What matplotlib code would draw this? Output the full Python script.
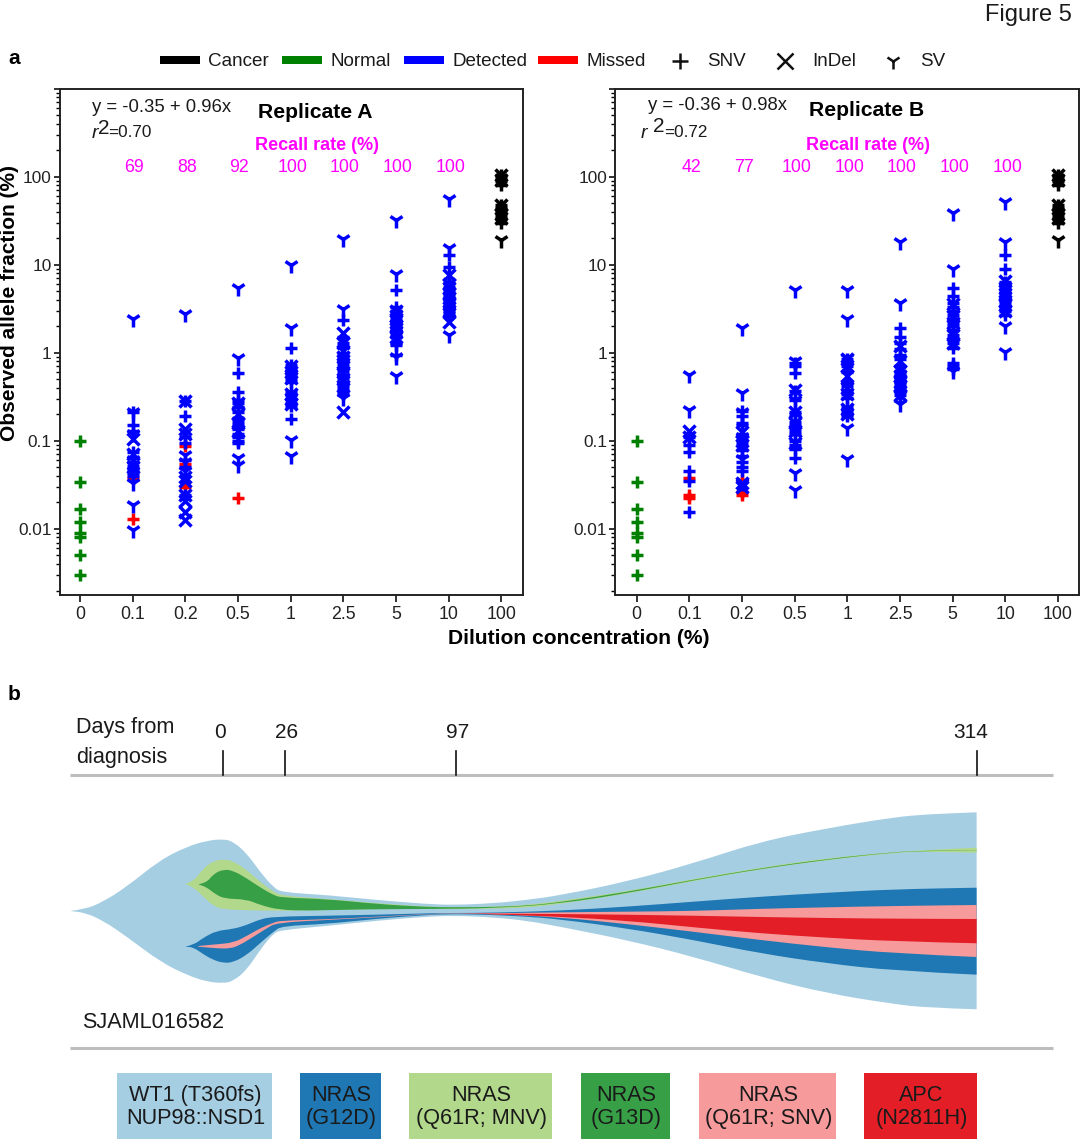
import numpy as np
import matplotlib
matplotlib.use("Agg")
import matplotlib.pyplot as plt
from matplotlib.path import Path
from matplotlib.patches import PathPatch, Rectangle
from matplotlib.lines import Line2D
from matplotlib.ticker import LogLocator, FixedLocator, NullFormatter, FuncFormatter

plt.rcParams['font.family'] = ['Liberation Sans', 'DejaVu Sans']

W, H = 1080, 1141

dilutions = ['0', '0.1', '0.2', '0.5', '1', '2.5', '5', '10', '100']
normal_snv = [0.1, 0.034, 0.017, 0.012, 0.009, 0.008, 0.005, 0.003]
cancer_snv = [105, 97, 88, 80, 48, 44, 40, 36, 33, 30]
cancer_indel = [105, 92, 48, 38, 34]
cancer_sv = [19]

# one list per dilution 0.1 ... 10
a_snv = [[0.21, 0.15, 0.13, 0.075, 0.065, 0.058, 0.052, 0.047, 0.043, 0.04],
         [0.28, 0.19, 0.11, 0.095, 0.06, 0.05, 0.024],
         [0.59, 0.36, 0.29, 0.27, 0.24, 0.21, 0.18, 0.165, 0.15, 0.135, 0.12, 0.11, 0.1, 0.094],
         [1.13, 0.72, 0.65, 0.6, 0.54, 0.5, 0.46, 0.36, 0.33, 0.3, 0.27, 0.25, 0.178],
         [2.33, 1.5, 1.3, 1.15, 1.0, 0.9, 0.82, 0.75, 0.68, 0.62, 0.56, 0.52, 0.47, 0.43, 0.4, 0.37, 0.34],
         [5.2, 3.3, 3.0, 2.7, 2.5, 2.3, 2.1, 1.95, 1.8, 1.65, 1.5, 1.3, 1.23, 0.95],
         [13, 9.4, 6.2, 5.6, 5.1, 4.7, 4.3, 4, 3.7, 3.4, 3.2, 3, 2.8, 2.6]]
a_indel = [[0.105, 0.07, 0.05],
           [0.28, 0.136, 0.12, 0.039, 0.035, 0.024, 0.021, 0.0157, 0.0127],
           [0.27, 0.2, 0.16, 0.13],
           [0.7, 0.6, 0.52, 0.34, 0.3, 0.26],
           [1.67, 1.3, 1.05, 0.9, 0.75, 0.6, 0.5, 0.42, 0.215],
           [3.0, 2.6, 2.4, 2.0, 1.7, 1.5],
           [7.7, 6, 5.5, 4.8, 4.2, 3.6, 3, 2.25]]
a_sv = [[2.43, 0.21, 0.12, 0.06, 0.045, 0.033, 0.0187, 0.0096],
        [2.77, 0.069, 0.058, 0.045],
        [5.5, 0.88, 0.0635, 0.0535],
        [10, 1.92, 0.103, 0.068],
        [19.7, 3.1, 0.31],
        [32, 7.9, 0.9, 0.54],
        [55, 15.6, 1.6]]
a_missed = [[0.038, 0.013], [0.0866, 0.055, 0.03], [0.0224], [], [], [], []]
a_recall = ['69', '88', '92', '100', '100', '100', '100']

b_snv = [[0.112, 0.09, 0.0755, 0.046, 0.0346, 0.0157],
         [0.216, 0.19, 0.16, 0.15, 0.12, 0.095, 0.078, 0.068, 0.058, 0.05, 0.045],
         [0.77, 0.7, 0.59, 0.37, 0.29, 0.215, 0.2, 0.165, 0.15, 0.13, 0.12, 0.1, 0.09, 0.08, 0.064],
         [0.85, 0.7, 0.6, 0.47, 0.42, 0.38, 0.34, 0.31, 0.24, 0.22, 0.2, 0.19],
         [1.92, 1.5, 1.3, 1.1, 0.95, 0.85, 0.7, 0.62, 0.57, 0.53, 0.5, 0.47, 0.44, 0.41, 0.38, 0.33],
         [5.4, 4.4, 3.7, 3.3, 3, 2.7, 2.4, 2.2, 2, 1.8, 1.6, 1.45, 1.3, 1.14, 0.77, 0.7, 0.65],
         [13, 9, 6.4, 6, 5.5, 5, 4.6, 4.2, 3.9, 3.6, 3.3, 3, 2.7]]
b_indel = [[0.131, 0.112],
           [0.125, 0.1, 0.09, 0.033, 0.03],
           [0.38, 0.21, 0.16, 0.13, 0.095],
           [0.85, 0.7, 0.55, 0.4, 0.34, 0.23, 0.2],
           [1.2, 0.8, 0.62, 0.55, 0.47, 0.42, 0.33],
           [3.6, 2.6, 2.2, 1.6, 1.3],
           [6.5, 5.5, 4.6, 3.9, 3.5, 3]]
b_sv = [[0.56, 0.225],
        [1.92, 0.35, 0.21, 0.11, 0.095, 0.063, 0.033],
        [5.2, 0.8, 0.29, 0.043, 0.028],
        [5.2, 2.4, 0.88, 0.14, 0.062],
        [18, 3.7, 0.33, 0.26],
        [39, 9, 0.62],
        [52, 18, 2, 1.03]]
b_missed = [[0.038, 0.024, 0.0225], [0.036, 0.026, 0.024], [], [], [], [], []]
b_recall = ['42', '77', '100', '100', '100', '100', '100']

# fish plot, days from diagnosis and clone edges above/below the midline
wt1_days = [-63.7, -57.5, -49.9, -40.1, -26.2, -15.1, -6.8, 0.2, 4.3, 9.9, 15.4, 21, 24.5, 43.2, 64, 84.9, 96, 112.7, 126.5, 140.4, 168.2, 196, 223.7, 251.5, 279.3, 293.2, 314]
wt1_top = [0, 1.7, 9.3, 24.3, 51, 64.3, 70.3, 72, 69.3, 57.7, 39.3, 23.7, 18.7, 16, 11, 7, 6, 7.7, 11, 15.7, 29.3, 47.7, 69.3, 82.7, 93.7, 96.7, 98.7]
wt1_bot = [0, -1.7, -9.7, -25.7, -50.7, -64, -70.7, -72.3, -70, -59, -39, -22.3, -19, -15, -9.7, -5.7, -4.7, -6.3, -9.7, -15.7, -29, -45.7, -65.7, -82.3, -93, -96.7, -98.3]

mnv_days_top = [-15.8, -12.3, -8.2, -4, 0.2, 4.3, 9.9, 15.4, 21, 24.5, 43.2, 64, 84.9, 96, 112.7, 126.5, 140.4, 168.2, 196, 223.7, 251.5, 279.3, 293.2, 314]
mnv_top = [27, 29.3, 42.7, 50, 51.7, 50, 41, 29.3, 19.3, 15.3, 12, 7.7, 4.3, 3.7, 4.3, 6, 10, 19.7, 32, 43.3, 53, 58.7, 61, 63.3]
mnv_days_bot = [-15.8, -12.3, -8.2, -4, 0.2, 9.9, 21, 29.3, 43.2, 64, 84.9, 96, 112.7, 126.5, 140.4, 168.2, 196, 223.7, 251.5, 279.3, 293.2, 314]
mnv_bot = [27, 23.7, 14.3, 5, 1.7, 0.7, 0.3, 0.3, 1, 2, 2, 2, 2.3, 3.3, 7, 17, 30, 41.7, 51, 58, 59.7, 58.3]

g13_days_top = [-10.3, -6.8, -4, 0.2, 4.3, 9.9, 15.4, 21, 24.5, 43.2, 64, 84.9, 96, 112.7, 126.5, 140.4, 168.2, 196, 223.7, 251.5, 279.3, 293.2, 314]
g13_top = [26.7, 28.3, 37, 41.7, 40.3, 32.7, 23.7, 16, 13.3, 12, 7, 4, 3.7, 4, 5.3, 8.7, 19, 31.3, 42.7, 52, 59, 60.3, 61]
g13_days_bot = [-10.3, -6.8, -4, 0.2, 9.9, 15.4, 23.7, 36.3, 57.1, 84.9, 112.7, 140.4, 168.2, 196, 223.7, 251.5, 279.3, 293.2, 314]
g13_bot = [26.7, 23.7, 18.3, 12.3, 11.7, 6, 1, 0.3, 1.7, 2, 2.7, 7.3, 17.7, 30.7, 42, 51.3, 58.7, 60, 60.8]

g12_days_top = [-15.8, -12.3, -8.2, -2.6, 4.3, 9.9, 15.4, 21, 43.2, 64, 84.9, 96, 112.7, 140.4, 168.2, 196, 223.7, 251.5, 279.3, 314]
g12_top = [-35.7, -34, -26.7, -19.7, -18, -14, -8.3, -5.7, -4.7, -3.7, -2.3, -2, -1.7, 0.3, 4.3, 9.3, 14.3, 18.3, 21.7, 23.3]
g12_days_bot = [-15.8, -12.3, -8.2, -4, 0.2, 4.3, 9.9, 15.4, 21, 24.5, 43.2, 64, 84.9, 96, 112.7, 126.5, 140.4, 168.2, 196, 223.7, 251.5, 279.3, 314]
g12_bot = [-35.7, -36.3, -43.3, -49, -52, -51.3, -44, -32.3, -20.7, -15, -13, -7.7, -4, -3, -4, -5.7, -8.3, -17.3, -29, -42.3, -52.3, -59.7, -63.7]

snv_days_top = [-10.3, -2.6, 4.3, 9.9, 15.4, 21, 23.7, 43.2, 64, 84.9, 96, 112.7, 140.4, 168.2, 196, 223.7, 251.5, 279.3, 314]
snv_top = [-35, -33.3, -31.7, -25, -17.3, -11.7, -9.7, -8.3, -5.7, -3, -2.3, -2.3, -1.3, -0.7, 0, 2.2, 3.7, 5, 6]
snv_days_bot = [-10.3, -2.6, 2.9, 7.1, 12.7, 18.2, 22.4, 43.2, 64, 84.9, 96, 112.7, 140.4, 168.2, 196, 223.7, 251.5, 279.3, 314]
snv_bot = [-35.7, -37.3, -37.7, -34, -25.7, -17.3, -11.7, -9, -6.3, -3.3, -2.7, -3, -6.3, -13, -20.7, -29, -36.3, -42.3, -46]

apc_days = [98.8, 112.7, 140.4, 168.2, 196, 223.7, 251.5, 279.3, 314]
apc_top = [-2.3, -2.7, -3, -3.7, -4.7, -6, -7, -7.7, -8]
apc_bot = [-2.3, -3.3, -5.7, -9.7, -16.3, -22.3, -26.7, -30.3, -32.3]

clone_names = ['WT1 (T360fs)\nNUP98::NSD1', 'NRAS\n(G12D)', 'NRAS\n(Q61R; MNV)', 'NRAS\n(G13D)', 'NRAS\n(Q61R; SNV)', 'APC\n(N2811H)']
clone_colors = ['#A6CEE3', '#1F78B4', '#B2D88B', '#37A047', '#F79A9B', '#E31E26']
time_points = [0, 26, 97, 314]
time_label_px = [220, 287, 458, 971]

TXT = '#1a1a1a'


def fx(px):
    return px / W


def fy(py):
    return 1 - py / H


def ftext(px, py, s, **kw):
    kw.setdefault('ha', 'center')
    kw.setdefault('va', 'center')
    kw.setdefault('color', TXT)
    return fig.text(fx(px), fy(py), s, **kw)


def dots(ax, col, vals, marker, color):
    if len(vals) == 0:
        return
    size = {'+': 9, 'x': 8, '1': 11.5}[marker]
    ax.plot([col] * len(vals), vals, linestyle='none', marker=marker, color=color,
            markersize=size, markeredgewidth=2.5, clip_on=False)


def draw_panel(ax, snv, indel, sv, missed):
    # missed goes first, the blue marks sit on top of it
    for i in range(7):
        dots(ax, i + 1, missed[i], '+', '#ff0000')
    for i in range(7):
        dots(ax, i + 1, snv[i], '+', '#0000ff')
        dots(ax, i + 1, indel[i], 'x', '#0000ff')
        dots(ax, i + 1, sv[i], '1', '#0000ff')
    dots(ax, 0, normal_snv, '+', '#008000')
    dots(ax, 8, cancer_snv, '+', '#000000')
    dots(ax, 8, cancer_indel, 'x', '#000000')
    dots(ax, 8, cancer_sv, '1', '#000000')

    ax.set_yscale('log')
    ax.set_ylim(10 ** -2.75, 1000)
    ax.set_xticks(range(9))
    ax.set_xticklabels(dilutions)
    ax.yaxis.set_major_locator(FixedLocator([0.01, 0.1, 1, 10, 100, 1000]))
    ax.yaxis.set_major_formatter(FuncFormatter(lambda v, p: '' if v > 100 else ('%g' % v)))
    ax.yaxis.set_minor_locator(LogLocator(base=10, subs=np.arange(2, 10), numticks=12))
    ax.yaxis.set_minor_formatter(NullFormatter())
    ax.tick_params(axis='x', which='major', labelsize=12.8, length=5, width=1.3, colors='#222222', pad=3)
    ax.tick_params(axis='y', which='major', labelsize=12.4, length=4.3, width=1.3, colors='#222222', pad=1.5)
    ax.tick_params(axis='y', which='minor', length=2.6, width=1)
    for s in ax.spines.values():
        s.set_linewidth(1.4)
        s.set_color('#222222')


def smooth_patch(ax, d_top, top, d_bot, bot, color, z):
    # quadratic segments through the read points so the edge stays round
    pts = list(zip(d_top, top)) + list(zip(d_bot[::-1], bot[::-1]))
    verts = [pts[0]]
    codes = [Path.MOVETO]
    for i in range(1, len(pts) - 1):
        if pts[i][0] == pts[i - 1][0] or pts[i][0] == pts[i + 1][0]:
            verts.append(pts[i])
            codes.append(Path.LINETO)
            continue
        verts.append(pts[i])
        codes.append(Path.CURVE3)
        verts.append(((pts[i][0] + pts[i + 1][0]) / 2, (pts[i][1] + pts[i + 1][1]) / 2))
        codes.append(Path.CURVE3)
    verts.append(pts[-1])
    codes.append(Path.LINETO)
    verts.append(pts[0])
    codes.append(Path.CLOSEPOLY)
    ax.add_patch(PathPatch(Path(verts, codes), facecolor=color, edgecolor='none', zorder=z))


fig = plt.figure(figsize=(W / 100, H / 100), dpi=100)

# panel b sits on a full page axes: x in days, y in px from the fish midline
ax_b = fig.add_axes([0, 0, 1, 1], zorder=0)
ax_b.set_xlim(-223 / 2.4, (W - 223) / 2.4)
ax_b.set_ylim(911 - H, 911)
ax_b.axis('off')

smooth_patch(ax_b, wt1_days, wt1_top, wt1_days, wt1_bot, clone_colors[0], 1)
smooth_patch(ax_b, mnv_days_top, mnv_top, mnv_days_bot, mnv_bot, clone_colors[2], 2)
smooth_patch(ax_b, g13_days_top, g13_top, g13_days_bot, g13_bot, clone_colors[3], 3)
smooth_patch(ax_b, g12_days_top, g12_top, g12_days_bot, g12_bot, clone_colors[1], 2)
smooth_patch(ax_b, snv_days_top, snv_top, snv_days_bot, snv_bot, clone_colors[4], 3)
smooth_patch(ax_b, apc_days, apc_top, apc_days, apc_bot, clone_colors[5], 4)

ax_b.plot([-63.7, 345.8], [136, 136], color='#bdbdbd', lw=2.2, solid_capstyle='butt', zorder=1)
ax_b.plot([-63.7, 345.8], [-137, -137], color='#bdbdbd', lw=2.2, solid_capstyle='butt', zorder=1)
for i, d in enumerate(time_points):
    ax_b.plot([d, d], [136, 160], color='#111111', lw=1.2, zorder=2)
    ftext(time_label_px[i], 732, str(d), fontsize=15)

box_left = [117, 300, 409, 581, 699, 864]
box_right = [272, 381, 552, 670, 836, 977]
for i in range(6):
    x0 = (box_left[i] - 223) / 2.4
    x1 = (box_right[i] - 223) / 2.4
    ax_b.add_patch(Rectangle((x0, 911 - 1139), x1 - x0, 66, facecolor=clone_colors[i], edgecolor='none'))
    ftext((box_left[i] + box_right[i]) / 2 + 1, 1107, clone_names[i], fontsize=15.6, linespacing=1.08)

ftext(76, 728, 'Days from', fontsize=15.6, ha='left')
ftext(76, 758, 'diagnosis', fontsize=15.6, ha='left')
ftext(82, 1022, 'SJAML016582', fontsize=15.6, ha='left')

# panel a axes
ax_a1 = fig.add_axes([fx(59.5), fy(595), fx(523 - 59.5), (595 - 88.5) / H], zorder=2)
ax_a1.set_xlim(-0.388, 8.41)
ax_a2 = fig.add_axes([fx(615), fy(595), fx(1078.5 - 615), (595 - 88.5) / H], zorder=2)
ax_a2.set_xlim(-0.41, 8.39)
draw_panel(ax_a1, a_snv, a_indel, a_sv, a_missed)
draw_panel(ax_a2, b_snv, b_indel, b_sv, b_missed)

# recall numbers over each dilution
for i in range(7):
    ftext(134 + i * 52.7, 168, a_recall[i], fontsize=12.8, color='#ff00ff')
    ftext(691 + i * 52.7, 168, b_recall[i], fontsize=12.8, color='#ff00ff')
ftext(317, 146, 'Recall rate (%)', fontsize=13, color='#ff00ff', fontweight='bold')
ftext(868, 146, 'Recall rate (%)', fontsize=13, color='#ff00ff', fontweight='bold')

ftext(315, 112.5, 'Replicate A', fontsize=15.2, fontweight='bold', color='black')
ftext(867, 110.5, 'Replicate B', fontsize=15.2, fontweight='bold', color='black')

ftext(92, 108, 'y = -0.35 + 0.96x', fontsize=13.3, ha='left')
ftext(92, 133, 'r', fontsize=14, ha='left', style='italic')
ftext(98, 128, '2', fontsize=15, ha='left')
ftext(108, 132, '=0.70', fontsize=12.3, ha='left')
ftext(648, 106, 'y = -0.36 + 0.98x', fontsize=13.3, ha='left')
ftext(641, 133, 'r', fontsize=14, ha='left', style='italic')
ftext(653, 127, '2', fontsize=15, ha='left')
ftext(664, 132, '=0.72', fontsize=12.3, ha='left')

ftext(10, 303, 'Observed allele fraction (%)', fontsize=15, fontweight='bold', rotation=90, color='black')
ftext(579, 639, 'Dilution concentration (%)', fontsize=15.1, fontweight='bold', color='black')

ftext(14, 59, 'a', fontsize=15, fontweight='bold', color='black')
ftext(14, 695, 'b', fontsize=15, fontweight='bold', color='black')
ftext(1028, 15, 'Figure 5', fontsize=17)

# legend row
swatch_x = [160, 282, 404, 538]
swatch_names = ['Cancer', 'Normal', 'Detected', 'Missed']
swatch_colors = ['#000000', '#008000', '#0000ff', '#ff0000']
for i in range(4):
    fig.add_artist(Rectangle((fx(swatch_x[i]), fy(64)), 40 / W, 8 / H, transform=fig.transFigure,
                             facecolor=swatch_colors[i], edgecolor='none'))
    ftext(swatch_x[i] + 48, 61.5, swatch_names[i], fontsize=13.6, ha='left')
for px, mk, name, tx in [(680, '+', 'SNV', 707), (785, 'x', 'InDel', 812), (893, '1', 'SV', 920)]:
    fig.add_artist(Line2D([fx(px)], [fy(61)], transform=fig.transFigure, marker=mk, color='#111111',
                          markersize=12 if mk != '1' else 11, markeredgewidth=1.8, linestyle='none'))
    ftext(tx, 61.5, name, fontsize=13.6, ha='left')

fig.savefig('out.png', dpi=100)
